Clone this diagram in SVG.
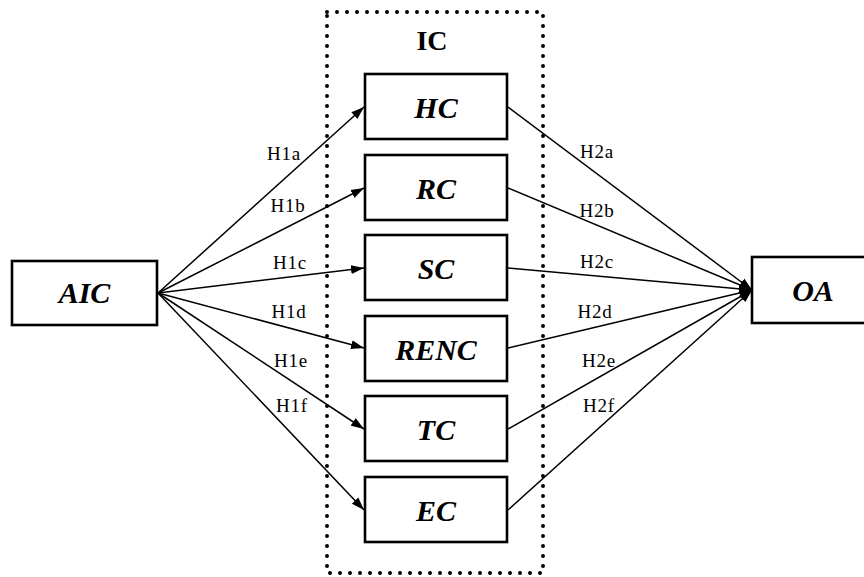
<svg xmlns="http://www.w3.org/2000/svg" width="864" height="577" viewBox="0 0 864 577">
<style>
.box{fill:#fff;stroke:#000;stroke-width:2.6}
.nt{font-family:'Liberation Serif',serif;font-weight:bold;font-style:italic;font-size:30px;text-anchor:middle;fill:#000}
.lb{font-family:'Liberation Serif',serif;font-size:19px;letter-spacing:0.8px;text-anchor:middle;fill:#000}
.ln{stroke:#000;stroke-width:1.5;fill:none;marker-end:url(#ah)}
</style>
<defs>
<marker id="ah" markerUnits="userSpaceOnUse" markerWidth="14" markerHeight="10" refX="13" refY="5" orient="auto">
<path d="M0,0.5 L13,5 L0,9.5 z" fill="#000"/>
</marker>
</defs>
<rect width="864" height="577" fill="#fff"/>
<g id="ic-group">
<rect x="327" y="12" width="216" height="561" fill="none" stroke="#000" stroke-width="4" stroke-linecap="round" stroke-dasharray="0 10"/>
<text x="432" y="50" font-family="Liberation Serif, serif" font-weight="bold" font-size="28" text-anchor="middle">IC</text>
</g>
<g id="connectors">
<line class="ln" x1="158" y1="293" x2="364" y2="107"/>
<line class="ln" x1="158" y1="293" x2="364" y2="188"/>
<line class="ln" x1="158" y1="293" x2="364" y2="268"/>
<line class="ln" x1="158" y1="293" x2="364" y2="348"/>
<line class="ln" x1="158" y1="293" x2="364" y2="429"/>
<line class="ln" x1="158" y1="293" x2="364" y2="510"/>
<line class="ln" x1="508" y1="107" x2="752" y2="290"/>
<line class="ln" x1="508" y1="188" x2="752" y2="290"/>
<line class="ln" x1="508" y1="268" x2="752" y2="290"/>
<line class="ln" x1="508" y1="348" x2="752" y2="290"/>
<line class="ln" x1="508" y1="429" x2="752" y2="290"/>
<line class="ln" x1="508" y1="510" x2="752" y2="290"/>
<text class="lb" x="284" y="160">H1a</text>
<text class="lb" x="288" y="212">H1b</text>
<text class="lb" x="290" y="269">H1c</text>
<text class="lb" x="289" y="318">H1d</text>
<text class="lb" x="291" y="367">H1e</text>
<text class="lb" x="292" y="412">H1f</text>
<text class="lb" x="597" y="158">H2a</text>
<text class="lb" x="597" y="217">H2b</text>
<text class="lb" x="597" y="268">H2c</text>
<text class="lb" x="595" y="318">H2d</text>
<text class="lb" x="599" y="367">H2e</text>
<text class="lb" x="599" y="412">H2f</text>
</g>
<g id="AIC"><rect class="box" x="12" y="261" width="145" height="64"/><text class="nt" x="84.5" y="303">AIC</text></g>
<g id="HC"><rect class="box" x="365" y="74" width="142" height="65"/><text class="nt" x="436" y="118">HC</text></g>
<g id="RC"><rect class="box" x="365" y="155" width="142" height="65"/><text class="nt" x="436" y="199">RC</text></g>
<g id="SC"><rect class="box" x="365" y="235" width="142" height="65"/><text class="nt" x="436" y="279">SC</text></g>
<g id="RENC"><rect class="box" x="365" y="316" width="142" height="65"/><text class="nt" x="436" y="360">RENC</text></g>
<g id="TC"><rect class="box" x="365" y="396" width="142" height="65"/><text class="nt" x="436" y="440">TC</text></g>
<g id="EC"><rect class="box" x="365" y="477" width="142" height="65"/><text class="nt" x="436" y="521">EC</text></g>
<g id="OA"><rect class="box" x="752" y="257" width="122" height="66"/><text class="nt" x="813" y="301">OA</text></g>
</svg>
